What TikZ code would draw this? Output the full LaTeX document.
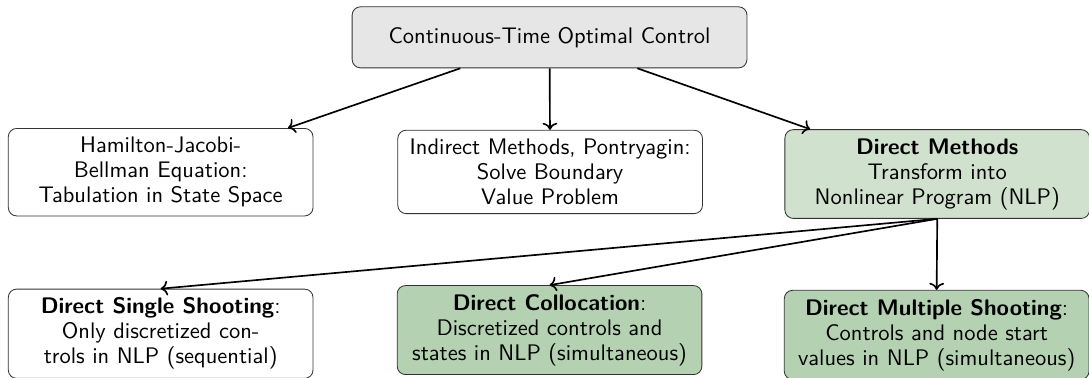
\documentclass[tikz,border=0pt]{standalone}
\usepackage{tikz}
\usetikzlibrary{arrows.meta,positioning}
\definecolor{ctrlgray}{HTML}{E6E6E6}
\definecolor{directgreen}{HTML}{D0E2CD}
\definecolor{schemegreen}{HTML}{B4D2B1}

\begin{document}
\begin{tikzpicture}[
    method/.style={rectangle, rounded corners=4pt, draw=black!80, fill=white, minimum width=5.14cm, align=center, anchor=north, inner sep=4.2pt, font=\sffamily\fontsize{10.8}{12}\selectfont},
    root/.style={method, fill=ctrlgray, minimum width=6.66cm, minimum height=1.03cm, anchor=center},
    arrow/.style={->, thick}
]
    \useasboundingbox (0,0) rectangle (18.37,6.36);

    % Nodes
    \node[root] (ocp) at (9.27,5.73) {Continuous-Time Optimal Control};
    \node[method] (hjb) at (2.71,4.20) {Hamilton-Jacobi-\\Bellman Equation:\\Tabulation in State Space};
    \node[method] (indirect) at (9.28,4.17) {Indirect Methods, Pontryagin:\\Solve Boundary\\Value Problem};
    \node[method, fill=directgreen] (direct) at (15.81,4.18) {\textbf{Direct Methods}\\Transform into\\Nonlinear Program (NLP)};
    \node[method] (single) at (2.71,1.49) {\textbf{Direct Single Shooting}:\\Only discretized con-\\trols in NLP (sequential)};
    \node[method, fill=schemegreen] (colloc) at (9.27,1.55) {\textbf{Direct Collocation}:\\Discretized controls and\\states in NLP (simultaneous)};
    \node[method, fill=schemegreen] (multiple) at (15.80,1.47) {\textbf{Direct Multiple Shooting}:\\Controls and node start\\values in NLP (simultaneous)};

    % Arrows
    \draw[arrow] (ocp) -- (hjb);
    \draw[arrow] (ocp) -- (indirect);
    \draw[arrow] (ocp) -- (direct);
    \draw[arrow] (direct.south) -- (single.north);
    \draw[arrow] (direct.south) -- (colloc.north);
    \draw[arrow] (direct.south) -- (multiple.north);
\end{tikzpicture}
\end{document}
